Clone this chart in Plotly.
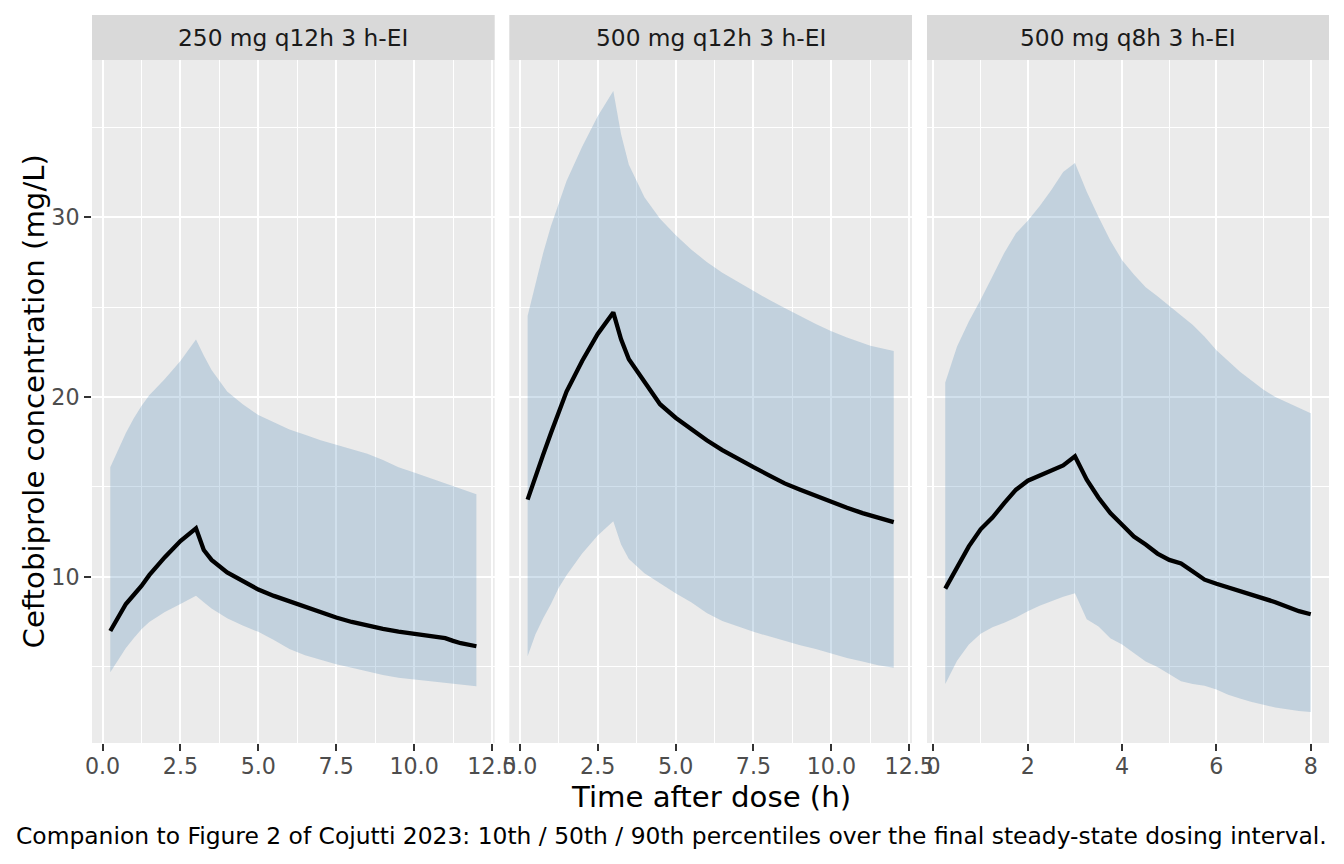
import plotly.graph_objects as go

# ---------------- data ----------------
panel_titles = ["250 mg q12h 3 h-EI", "500 mg q12h 3 h-EI", "500 mg q8h 3 h-EI"]

time_q12 = [0.25, 0.5, 0.75, 1.0, 1.25, 1.5, 2.0, 2.5, 3.0, 3.25, 3.5, 4.0, 4.5, 5.0, 5.5,
            6.0, 6.5, 7.0, 7.5, 8.0, 8.5, 9.0, 9.5, 10.0, 10.5, 11.0, 11.25, 11.5, 12.0]

p1_median = [7.0, 7.8, 8.5, 9.0, 9.5, 10.1, 11.1, 12.0, 12.7, 11.5, 10.95, 10.25, 9.75, 9.3, 8.95,
             8.65, 8.35, 8.03, 7.75, 7.5, 7.3, 7.12, 6.97, 6.85, 6.74, 6.6, 6.45, 6.32, 6.15]
p1_p90 = [16.1, 17.1, 18.0, 18.8, 19.5, 20.1, 21.0, 22.0, 23.2, 22.3, 21.5, 20.3, 19.6, 19.0, 18.6,
          18.2, 17.9, 17.6, 17.35, 17.1, 16.85, 16.5, 16.1, 15.8, 15.5, 15.2, 15.05, 14.9, 14.6]
p1_p10 = [4.7, 5.4, 6.05, 6.6, 7.1, 7.5, 8.05, 8.5, 8.95, 8.6, 8.25, 7.7, 7.3, 6.95, 6.5,
          6.0, 5.65, 5.4, 5.15, 4.95, 4.75, 4.55, 4.4, 4.3, 4.2, 4.1, 4.05, 4.0, 3.93]

p2_median = [14.3, 15.6, 16.8, 18.0, 19.2, 20.3, 22.0, 23.5, 24.7, 23.2, 22.1, 20.8, 19.6, 18.85, 18.2,
             17.6, 17.05, 16.55, 16.1, 15.65, 15.2, 14.85, 14.5, 14.15, 13.85, 13.55, 13.4, 13.3, 13.05]
p2_p90 = [24.5, 26.3, 28.0, 29.5, 30.8, 32.0, 33.9, 35.6, 37.0, 34.6, 32.9, 31.1, 29.9, 29.0, 28.2,
          27.5, 26.9, 26.4, 25.9, 25.4, 24.95, 24.5, 24.05, 23.65, 23.3, 23.0, 22.85, 22.75, 22.55]
p2_p10 = [5.6, 6.8, 7.7, 8.5, 9.4, 10.1, 11.3, 12.3, 13.1, 11.8, 11.0, 10.2, 9.65, 9.1, 8.6,
          8.0, 7.55, 7.25, 6.95, 6.7, 6.45, 6.2, 6.0, 5.75, 5.5, 5.3, 5.2, 5.1, 4.95]

time_q8 = [0.25, 0.5, 0.75, 1.0, 1.25, 1.5, 1.75, 2.0, 2.25, 2.5, 2.75, 3.0, 3.25, 3.5, 3.75, 4.0,
           4.25, 4.5, 4.75, 5.0, 5.25, 5.5, 5.75, 6.0, 6.25, 6.5, 6.75, 7.0, 7.25, 7.5, 7.75, 8.0]
p3_median = [9.35, 10.5, 11.7, 12.65, 13.3, 14.1, 14.85, 15.35, 15.65, 15.9, 16.2, 16.7, 15.4, 14.4, 13.55, 12.9,
             12.25, 11.8, 11.3, 10.95, 10.75, 10.3, 9.85, 9.62, 9.42, 9.22, 9.02, 8.82, 8.6, 8.35, 8.1, 7.93]
p3_p90 = [20.8, 22.8, 24.2, 25.4, 26.7, 28.0, 29.1, 29.8, 30.6, 31.5, 32.5, 33.0, 31.4, 30.0, 28.7, 27.6,
          26.8, 26.1, 25.6, 25.05, 24.5, 24.0, 23.35, 22.6, 22.0, 21.4, 20.9, 20.4, 20.0, 19.7, 19.4, 19.1]
p3_p10 = [4.05, 5.35, 6.25, 6.85, 7.2, 7.45, 7.75, 8.1, 8.4, 8.65, 8.9, 9.1, 7.65, 7.25, 6.6, 6.25,
          5.75, 5.3, 5.0, 4.6, 4.2, 4.05, 3.95, 3.75, 3.45, 3.25, 3.05, 2.9, 2.75, 2.65, 2.55, 2.5]

x_tick_dtick = [2.5, 2.5, 2]
y_tick_vals = [10, 20, 30]

x_title = "Time after dose (h)"
y_title = "Ceftobiprole concentration (mg/L)"
caption = ("Companion to Figure 2 of Cojutti 2023: 10th / 50th / 90th percentiles "
           "over the final steady-state dosing interval.")

# ---------------- figure ----------------
panels = [
    (time_q12, p1_p10, p1_median, p1_p90),
    (time_q12, p2_p10, p2_median, p2_p90),
    (time_q8, p3_p10, p3_median, p3_p90),
]

FONT = "DejaVu Sans"
W, H = 1344, 864
ML, MR, MT, MB = 92, 15, 60, 121
plot_w = W - ML - MR
plot_h = H - MT - MB
strip_h = 45
TICK_SIZE = 22.2
STRIP_SIZE = 23.3
TITLE_SIZE = 29.2
CAP_SIZE = 23.4

# panel pixel extents (left, right)
panel_px = [(92, 494.7), (509.3, 912.0), (927.0, 1329.0)]
domains = [[(a - ML) / plot_w, (b - ML) / plot_w] for a, b in panel_px]
domains[-1][1] = 1.0
domains[0][0] = 0.0

fig = go.Figure()
band_fill = "rgba(70,130,180,0.25)"

for i, (t, lo, med, hi) in enumerate(panels):
    xa = "x" if i == 0 else f"x{i+1}"
    ya = "y" if i == 0 else f"y{i+1}"
    fig.add_trace(go.Scatter(x=t, y=lo, mode="lines", line=dict(width=0, color=band_fill),
                             xaxis=xa, yaxis=ya, showlegend=False, hoverinfo="skip"))
    fig.add_trace(go.Scatter(x=t, y=hi, mode="lines", line=dict(width=0, color=band_fill),
                             fill="tonexty", fillcolor=band_fill,
                             xaxis=xa, yaxis=ya, showlegend=False, hoverinfo="skip"))
    fig.add_trace(go.Scatter(x=t, y=med, mode="lines", line=dict(width=4.3, color="black"),
                             xaxis=xa, yaxis=ya, showlegend=False))

# y range (shared) with 5% expansion
all_y = p1_p10 + p1_p90 + p2_p10 + p2_p90 + p3_p10 + p3_p90
ymin, ymax = min(all_y), max(all_y)
ypad = 0.05 * (ymax - ymin)
yrange = [ymin - ypad, ymax + ypad]

grid_major = dict(showgrid=True, gridcolor="white", gridwidth=2.4, zeroline=False, automargin=False)
layout = dict(
    width=W, height=H, autosize=False,
    paper_bgcolor="white", plot_bgcolor="#EBEBEB",
    margin=dict(l=ML, r=MR, t=MT, b=MB, autoexpand=False),
    font=dict(family=FONT, color="#4D4D4D", size=TICK_SIZE),
    showlegend=False,
)

for i, (t, lo, med, hi) in enumerate(panels):
    xmin, xmax = min(t), max(t)
    xpad = 0.05 * (xmax - xmin)
    xkey = "xaxis" if i == 0 else f"xaxis{i+1}"
    ykey = "yaxis" if i == 0 else f"yaxis{i+1}"
    d = x_tick_dtick[i]
    layout[xkey] = dict(
        domain=domains[i], anchor="y" if i == 0 else f"y{i+1}",
        range=[xmin - xpad, xmax + xpad],
        tick0=0, dtick=d, tickformat=".1f" if d == 2.5 else "d",
        ticks="outside", ticklen=7, tickwidth=2.4, tickcolor="#333333",
        ticklabelstandoff=-4,
        tickfont=dict(family=FONT, size=TICK_SIZE, color="#4D4D4D"),
        minor=dict(tick0=0, dtick=d / 2, showgrid=True, gridcolor="white", gridwidth=1.2, ticks=""),
        showline=False, **grid_major,
    )
    layout[ykey] = dict(
        domain=[0, 1], anchor="x" if i == 0 else f"x{i+1}",
        range=yrange, tickvals=y_tick_vals,
        ticks="outside" if i == 0 else "", ticklen=7, tickwidth=2.4, tickcolor="#333333",
        showticklabels=(i == 0),
        tickfont=dict(family=FONT, size=TICK_SIZE, color="#4D4D4D"),
        minor=dict(tickvals=[5, 15, 25, 35], showgrid=True, gridcolor="white", gridwidth=1.2, ticks=""),
        showline=False, **grid_major,
    )

fig.update_layout(**layout)

# strips
strip_top = 1 + strip_h / plot_h
shapes = []
annotations = []
for i, title in enumerate(panel_titles):
    x0, x1 = domains[i]
    shapes.append(dict(type="rect", xref="paper", yref="paper", x0=x0, x1=x1,
                       y0=1, y1=strip_top, fillcolor="#D9D9D9", line=dict(width=0), layer="below"))
    annotations.append(dict(text=title, xref="paper", yref="paper", x=(x0 + x1) / 2,
                            y=(1 + strip_top) / 2, xanchor="center", yanchor="middle",
                            showarrow=False, font=dict(family=FONT, size=STRIP_SIZE, color="#1A1A1A")))

bottom_px = MT + plot_h
annotations.append(dict(text=x_title, xref="paper", yref="paper", x=0.5,
                        y=-(797 - bottom_px) / plot_h, xanchor="center", yanchor="middle",
                        showarrow=False, font=dict(family=FONT, size=TITLE_SIZE, color="black")))
annotations.append(dict(text=y_title, xref="paper", yref="paper", x=(33 - ML) / plot_w,
                        y=0.5, xanchor="center", yanchor="middle", textangle=-90,
                        showarrow=False, font=dict(family=FONT, size=TITLE_SIZE, color="black")))
annotations.append(dict(text=caption, xref="paper", yref="paper", x=1.0,
                        y=-(836 - bottom_px) / plot_h, xanchor="right", yanchor="middle",
                        showarrow=False, font=dict(family=FONT, size=CAP_SIZE, color="black")))

fig.update_layout(shapes=shapes, annotations=annotations)
fig.write_html("out.html", config={"displayModeBar": False},
               post_script="document.body.style.margin='0';document.body.style.overflow='hidden';")
